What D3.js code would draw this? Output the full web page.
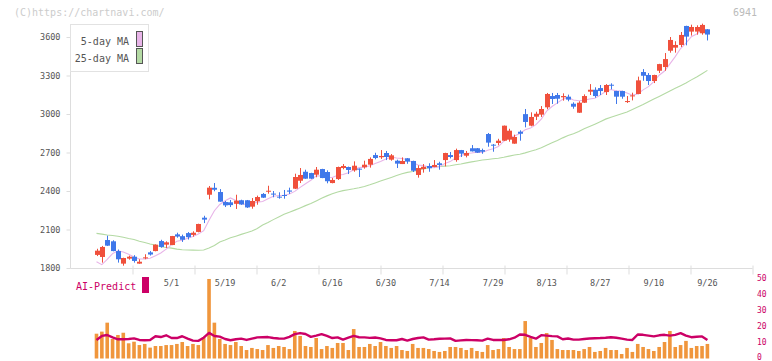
<!DOCTYPE html>
<html><head><meta charset="utf-8">
<script src="https://cdn.jsdelivr.net/npm/d3@7"></script>
<style>body{margin:0;background:#fff}svg{display:block}</style>
</head><body>
<svg id="c" width="772" height="361"></svg>
<script>
const dates = ["4/10","4/11","4/14","4/15","4/16","4/17","4/18","4/21","4/22","4/23","4/24","4/25","4/28","4/30",
"5/1","5/2","5/7","5/8","5/9","5/12","5/13","5/14","5/15","5/16","5/19","5/20","5/21","5/22","5/23","5/26","5/27","5/28","5/29","5/30",
"6/2","6/3","6/4","6/5","6/6","6/9","6/10","6/11","6/12","6/13","6/16","6/17","6/18","6/19","6/20","6/23","6/24","6/25","6/26","6/27","6/30",
"7/1","7/2","7/3","7/4","7/7","7/8","7/9","7/10","7/11","7/14","7/15","7/16","7/17","7/18","7/22","7/23","7/24","7/25","7/28","7/29","7/30","7/31",
"8/1","8/4","8/5","8/6","8/7","8/8","8/12","8/13","8/14","8/15","8/18","8/19","8/20","8/21","8/22","8/25","8/26","8/27","8/28","8/29",
"9/1","9/2","9/3","9/4","9/5","9/8","9/9","9/10","9/11","9/12","9/16","9/17","9/18","9/19","9/22","9/24","9/25","9/26"];

const openP = [1902,1886,2018,2008,1932,1834,1873,1888,1834,1876,
1922,1932,2010,1982,1979,2062,2048,2072,2058,2081,
2192,2371,2425,2392,2314,2312,2300,2328,2328,2278,
2320,2377,2395,2380,2356,2369,2404,2418,2480,2550,
2540,2527,2571,2548,2462,2493,2579,2587,2561,2574,
2585,2605,2680,2663,2696,2644,2636,2610,2655,2634,
2525,2571,2595,2587,2616,2641,2680,2641,2719,2675,
2733,2733,2719,2844,2761,2774,2792,2800,2769,2862,
2999,2909,2979,2995,3052,3140,3148,3130,3135,3080,
3010,3088,3174,3189,3202,3171,3228,3179,3179,3093,
3138,3156,3327,3304,3257,3337,3366,3493,3517,3538,
3686,3642,3642,3629,3660];

const highP = [1950,1972,2052,2016,1944,1880,1896,1900,1868,1907,
1932,1984,2020,2008,2050,2075,2060,2080,2086,2145,
2207,2439,2462,2415,2322,2330,2371,2332,2330,2345,
2364,2384,2441,2400,2390,2408,2426,2535,2579,2566,
2542,2587,2573,2561,2501,2590,2610,2590,2631,2576,
2636,2662,2698,2719,2712,2688,2644,2662,2657,2636,
2600,2610,2616,2641,2628,2698,2704,2730,2720,2712,
2758,2735,2730,2852,2766,2807,2910,2885,2839,2873,
3039,3013,3018,3062,3164,3164,3164,3161,3151,3091,
3099,3153,3233,3208,3226,3233,3239,3181,3181,3140,
3166,3291,3350,3319,3306,3391,3475,3600,3567,3639,
3688,3696,3691,3704,3662];

const lowP = [1893,1842,1972,1930,1842,1818,1865,1842,1833,1868,
1897,1930,1958,1956,1978,2036,2003,2022,2044,2078,
2150,2335,2398,2316,2275,2275,2260,2292,2268,2262,
2293,2346,2379,2351,2340,2340,2377,2415,2462,2495,
2494,2507,2500,2460,2460,2486,2569,2532,2550,2509,
2574,2582,2647,2650,2641,2636,2579,2610,2612,2548,
2504,2543,2550,2585,2566,2592,2654,2628,2665,2662,
2708,2697,2690,2745,2706,2756,2790,2784,2768,2792,
2896,2904,2953,2977,3037,3078,3080,3104,3099,3041,
3008,3086,3148,3127,3148,3148,3192,3078,3119,3086,
3106,3154,3259,3226,3241,3319,3337,3478,3478,3522,
3535,3611,3618,3618,3573];

const closeP = [1935,1964,1974,1932,1868,1878,1888,1855,1849,1883,
1905,1982,1964,2000,2049,2045,2020,2040,2075,2143,
2177,2426,2410,2317,2288,2290,2325,2295,2272,2322,
2353,2348,2402,2372,2349,2362,2395,2509,2525,2496,
2496,2566,2501,2476,2486,2587,2595,2564,2597,2567,
2605,2650,2657,2673,2665,2678,2613,2634,2629,2558,
2579,2589,2577,2603,2603,2696,2665,2719,2691,2696,
2709,2699,2706,2777,2754,2792,2909,2870,2821,2846,
2938,2977,3002,3039,3156,3117,3119,3140,3112,3057,
3088,3140,3189,3140,3179,3226,3221,3135,3135,3101,
3145,3262,3298,3257,3304,3389,3428,3577,3538,3616,
3603,3678,3678,3694,3619];

const ma5 = [1849,1826,1868,1912,1933,1925,1908,1886,1870,1871,
1876,1895,1917,1947,1980,2008,2016,2031,2046,2065,
2091,2172,2246,2295,2324,2346,2326,2303,2294,2301,
2313,2318,2339,2359,2365,2367,2376,2397,2428,2457,
2484,2518,2517,2507,2505,2523,2529,2542,2566,2582,
2586,2597,2615,2630,2650,2665,2657,2653,2644,2622,
2603,2598,2586,2581,2590,2614,2629,2657,2675,2693,
2696,2703,2700,2717,2729,2746,2788,2820,2829,2848,
2877,2890,2917,2960,3022,3058,3087,3114,3129,3109,
3103,3107,3117,3123,3147,3175,3191,3180,3179,3164,
3147,3156,3188,3213,3253,3302,3335,3391,3447,3510,
3552,3602,3623,3654,3654];

const ma25 = [2070,2064,2057,2053,2047,2040,2030,2022,2008,1998,
1987,1978,1965,1960,1955,1947,1942,1940,1939,1938,
1940,1955,1975,2003,2018,2035,2048,2062,2075,2088,
2108,2135,2155,2177,2198,2218,2234,2251,2268,2286,
2302,2322,2343,2362,2379,2392,2403,2410,2417,2425,
2435,2448,2463,2478,2492,2506,2520,2534,2545,2552,
2562,2572,2582,2588,2591,2594,2597,2604,2611,2619,
2627,2634,2641,2646,2651,2655,2663,2672,2680,2687,
2697,2709,2721,2737,2757,2776,2794,2814,2832,2846,
2863,2885,2903,2921,2940,2960,2974,2988,3002,3016,
3035,3054,3074,3096,3117,3137,3158,3180,3200,3221,
3242,3266,3289,3314,3340];

const volume = [15.5,16.8,22.4,12.2,14.7,16.1,9.5,10.5,8.4,9.1,
6.8,7.8,7.8,8.4,8.4,9.1,10.3,7.8,9.1,8.4,
13.4,49.7,22.4,12.2,9.1,8.4,10.3,7.8,5.3,6.6,
5.9,5.3,8.4,6.6,7.8,7.2,5.9,17.2,14.1,7.8,
7.2,12.8,5.9,7.8,6.6,9.7,9.7,5.3,18.4,7.2,
7.2,9.1,7.8,10.3,7.8,6.6,7.8,5.3,4.7,9.1,
6.6,6.6,5.9,4.7,4.1,4.7,7.2,7.2,6.6,5.3,
6.6,4.7,4.1,8.4,5.3,5.9,12.8,7.2,5.9,5.9,
23.4,12.8,7.2,9.7,15.9,11.6,5.9,5.3,5.3,5.3,
4.7,5.9,7.2,4.1,4.7,6.6,5.3,5.3,2.8,6.6,
4.1,9.1,7.2,5.9,4.7,7.2,10.3,17.2,7.2,8.4,
11,6.6,7.8,7.8,9.1];

const aiPredict = [11.6,14.1,14.7,13.2,12,12,12.2,12.6,11.6,11.4,
11.6,13.9,13.4,14.5,12.8,12.8,13.9,12.4,11.2,11,
13.0,16.0,14.1,13.7,12.2,11.4,12,12.4,11.6,12.4,
13.2,13.3,13.4,12.8,12.5,12.4,13.5,15.2,15.9,15.3,
13.5,14.3,15.2,14.1,12.8,13.2,11.8,13,14.1,13.3,
13.2,12.9,13.1,12.6,11.6,11.4,11.4,12.2,11.2,12.2,
12.8,13.2,11.8,12,12.3,12.4,12.6,11,11.3,11.6,
11.5,11.4,11.2,12.4,11.6,11.6,11.6,12,13,15,
14.8,13.5,12.4,14.6,14.3,14,13.8,12,12.5,11.8,
11.8,12.2,12.5,12.7,12.8,13,13.3,13,12.4,11.8,
11.6,15,14.8,14.3,13.8,14.5,14.8,14.3,14.8,15.8,
14.3,13.3,13.6,13.8,11.6];

const dateTicks = ["5/1","5/19","6/2","6/16","6/30","7/14","7/29","8/13","8/27","9/10","9/26"];
const priceTicks = [1800,2100,2400,2700,3000,3300,3600];
const aiTicks = [0,10,20,30,40,50];
const legendItems = ["5-day MA","25-day MA"];
const divisions = d3.range(1, 12);

const svg = d3.select("#c");
const MONO = "'DejaVu Sans Mono', 'Liberation Mono', monospace";
const plot = {left: 70, right: 752, top: 24, bottom: 268};
const C = {up: "#F0503C", down: "#3F78EA", ma5: "#E8B4E8", ma25: "#B4DAA4",
  axis: "#DDDDDD", text: "#555555", vol: "#F0963C", ai: "#CC0066"};

const x = d3.scalePoint().domain(dates).range([96.5, 707.4]);
const y = d3.scaleLinear().domain([1800, 3600]).range([268, 37]);
const vs = d3.scaleLinear().domain([0, 50]).range([358.5, 278.5]);
const frame = d3.scaleLinear().domain([0, 11]).range([plot.left, plot.right]);

// watermark & code
svg.append("text").attr("x", 14).attr("y", 16).attr("font-family", MONO).attr("font-size", 10)
  .attr("fill", "#CCCCCC").text("(C)https://chartnavi.com/");
svg.append("text").attr("x", 757).attr("y", 16).attr("text-anchor", "end").attr("font-family", MONO)
  .attr("font-size", 10).attr("fill", "#BBBBBB").text("6941");

// y axis
const yAx = svg.append("g").attr("transform", `translate(${plot.left + 0.5},0)`)
  .call(d3.axisLeft(y).tickValues(priceTicks).tickSize(4).tickPadding(6).tickFormat(d3.format("d")));
yAx.select(".domain").remove();
yAx.selectAll(".tick line").attr("stroke", C.axis);
yAx.selectAll("text").attr("font-family", MONO).attr("font-size", 8.5).attr("fill", C.text);
svg.append("line").attr("x1", plot.left + 0.5).attr("x2", plot.left + 0.5)
  .attr("y1", plot.top).attr("y2", plot.bottom + 0.5).attr("stroke", C.axis);

// x axis frame
const xAx = svg.append("g").attr("transform", `translate(0.5,${plot.bottom + 0.5})`)
  .call(d3.axisBottom(frame).tickValues(divisions).tickSize(6).tickSizeOuter(0).tickFormat(""));
xAx.select(".domain").attr("stroke", C.axis).attr("d", `M${plot.left},0H${plot.right}`);
xAx.selectAll(".tick line").attr("stroke", C.axis).attr("y1", -3);

// date labels
svg.append("g").selectAll("text").data(dateTicks).join("text")
  .attr("x", d => x(d)).attr("y", 286).attr("text-anchor", "middle")
  .attr("font-family", MONO).attr("font-size", 8.5).attr("fill", C.text).text(d => d);

// moving averages
const idx = d3.range(dates.length);
const lineOf = arr => d3.line().x(i => x(dates[i])).y(i => y(arr[i]));
svg.append("path").attr("d", lineOf(ma25)(idx)).attr("fill", "none").attr("stroke", C.ma25)
  .attr("stroke-width", 1.1);
svg.append("path").attr("d", lineOf(ma5)(idx)).attr("fill", "none").attr("stroke", C.ma5)
  .attr("stroke-width", 1.1);

// candles
const cg = svg.append("g");
idx.forEach(i => {
  const cx = Math.round(x(dates[i])) + 0.5;
  const col = closeP[i] >= openP[i] ? C.up : C.down;
  cg.append("line").attr("x1", cx).attr("x2", cx).attr("y1", y(highP[i])).attr("y2", y(lowP[i]))
    .attr("stroke", col).attr("stroke-width", 1);
  const top = y(Math.max(openP[i], closeP[i])), bot = y(Math.min(openP[i], closeP[i]));
  cg.append("rect").attr("x", cx - 2.5).attr("width", 5).attr("y", top)
    .attr("height", Math.max(1, bot - top)).attr("fill", col);
});

// legend
const lg = svg.append("g");
lg.append("rect").attr("x", plot.left + 0.5).attr("y", 24.5).attr("width", 78).attr("height", 47)
  .attr("fill", "#fff").attr("stroke", "#E2E2E2");
legendItems.forEach((t, k) => {
  lg.append("text").attr("x", 129).attr("y", 45 + k * 17).attr("text-anchor", "end")
    .attr("font-family", MONO).attr("font-size", 10).attr("fill", C.text).text(t);
  lg.append("rect").attr("x", 136.5).attr("y", 31.5 + k * 17).attr("width", 6).attr("height", 15)
    .attr("fill", k === 0 ? C.ma5 : C.ma25).attr("stroke", "#555");
});

// AI-Predict panel
svg.append("text").attr("x", 76).attr("y", 290).attr("font-family", MONO).attr("font-size", 10)
  .attr("fill", C.ai).text("AI-Predict");
svg.append("rect").attr("x", 142).attr("y", 277).attr("width", 7).attr("height", 16).attr("fill", C.ai);

svg.append("g").selectAll("rect").data(idx).join("rect")
  .attr("x", i => x(dates[i]) - 1.8).attr("width", 3.6)
  .attr("y", i => vs(volume[i])).attr("height", i => vs(0) - vs(volume[i]))
  .attr("fill", C.vol);

svg.append("path").attr("d", d3.line().x(i => x(dates[i])).y(i => vs(aiPredict[i]))(idx))
  .attr("fill", "none").attr("stroke", C.ai).attr("stroke-width", 2.4).attr("stroke-linejoin", "round");

svg.append("g").selectAll("text").data(aiTicks).join("text")
  .attr("x", 757).attr("y", d => Math.min(vs(d) + 2.8, 359.5)).attr("font-family", MONO).attr("font-size", 8)
  .attr("fill", C.ai).text(d => d);
</script>
</body></html>
